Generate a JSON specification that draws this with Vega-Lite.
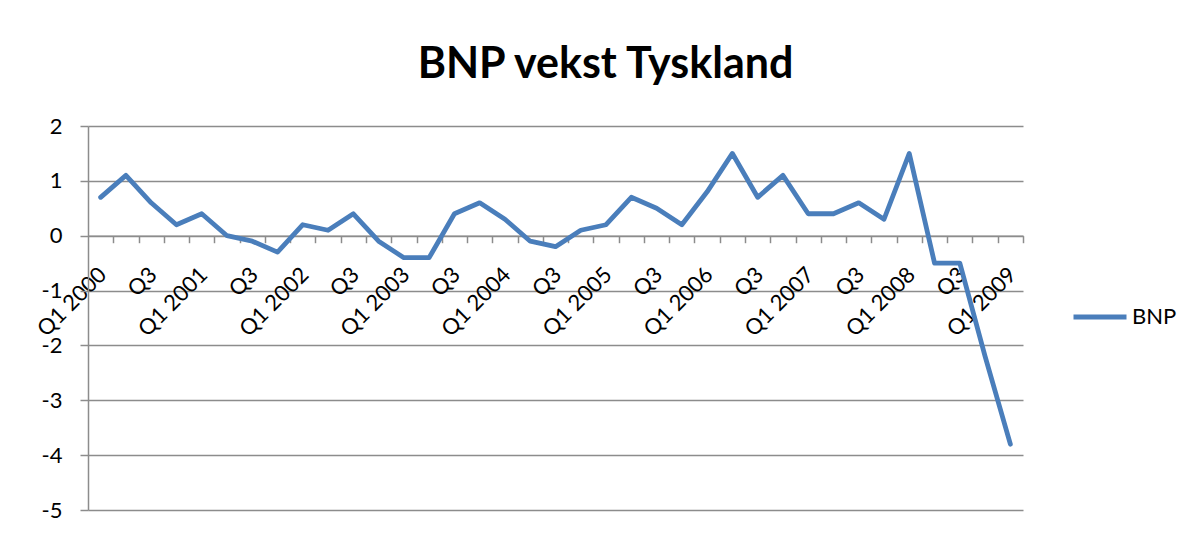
{
  "$schema": "https://vega.github.io/schema/vega-lite/v6.json",
  "width": 935,
  "height": 384,
  "autosize": {"type": "none"},
  "padding": {"left": 88, "top": 126, "right": 176, "bottom": 26},
  "background": "white",
  "config": {"view": {"stroke": null}, "font": "Lato"},
  "title": {"text": "BNP vekst Tyskland", "fontSize": 43, "font": "Lato", "fontWeight": "bold", "color": "black", "anchor": "middle", "dx": 50, "offset": 28},
  "data": {"values": [
    {"kvartal": "Q1 2000", "BNP": 0.7, "serie": "BNP"},
    {"kvartal": "Q2 2000", "BNP": 1.1, "serie": "BNP"},
    {"kvartal": "Q3 2000", "BNP": 0.6, "serie": "BNP"},
    {"kvartal": "Q4 2000", "BNP": 0.2, "serie": "BNP"},
    {"kvartal": "Q1 2001", "BNP": 0.4, "serie": "BNP"},
    {"kvartal": "Q2 2001", "BNP": 0.0, "serie": "BNP"},
    {"kvartal": "Q3 2001", "BNP": -0.1, "serie": "BNP"},
    {"kvartal": "Q4 2001", "BNP": -0.3, "serie": "BNP"},
    {"kvartal": "Q1 2002", "BNP": 0.2, "serie": "BNP"},
    {"kvartal": "Q2 2002", "BNP": 0.1, "serie": "BNP"},
    {"kvartal": "Q3 2002", "BNP": 0.4, "serie": "BNP"},
    {"kvartal": "Q4 2002", "BNP": -0.1, "serie": "BNP"},
    {"kvartal": "Q1 2003", "BNP": -0.4, "serie": "BNP"},
    {"kvartal": "Q2 2003", "BNP": -0.4, "serie": "BNP"},
    {"kvartal": "Q3 2003", "BNP": 0.4, "serie": "BNP"},
    {"kvartal": "Q4 2003", "BNP": 0.6, "serie": "BNP"},
    {"kvartal": "Q1 2004", "BNP": 0.3, "serie": "BNP"},
    {"kvartal": "Q2 2004", "BNP": -0.1, "serie": "BNP"},
    {"kvartal": "Q3 2004", "BNP": -0.2, "serie": "BNP"},
    {"kvartal": "Q4 2004", "BNP": 0.1, "serie": "BNP"},
    {"kvartal": "Q1 2005", "BNP": 0.2, "serie": "BNP"},
    {"kvartal": "Q2 2005", "BNP": 0.7, "serie": "BNP"},
    {"kvartal": "Q3 2005", "BNP": 0.5, "serie": "BNP"},
    {"kvartal": "Q4 2005", "BNP": 0.2, "serie": "BNP"},
    {"kvartal": "Q1 2006", "BNP": 0.8, "serie": "BNP"},
    {"kvartal": "Q2 2006", "BNP": 1.5, "serie": "BNP"},
    {"kvartal": "Q3 2006", "BNP": 0.7, "serie": "BNP"},
    {"kvartal": "Q4 2006", "BNP": 1.1, "serie": "BNP"},
    {"kvartal": "Q1 2007", "BNP": 0.4, "serie": "BNP"},
    {"kvartal": "Q2 2007", "BNP": 0.4, "serie": "BNP"},
    {"kvartal": "Q3 2007", "BNP": 0.6, "serie": "BNP"},
    {"kvartal": "Q4 2007", "BNP": 0.3, "serie": "BNP"},
    {"kvartal": "Q1 2008", "BNP": 1.5, "serie": "BNP"},
    {"kvartal": "Q2 2008", "BNP": -0.5, "serie": "BNP"},
    {"kvartal": "Q3 2008", "BNP": -0.5, "serie": "BNP"},
    {"kvartal": "Q4 2008", "BNP": -2.2, "serie": "BNP"},
    {"kvartal": "Q1 2009", "BNP": -3.8, "serie": "BNP"}
  ]},
  "mark": {"type": "line", "strokeWidth": 4.8, "strokeCap": "round", "strokeJoin": "round"},
  "encoding": {
    "x": {
      "field": "kvartal", "type": "ordinal", "sort": null,
      "scale": {"type": "point", "padding": 0.5},
      "axis": {
        "title": null, "orient": "bottom", "offset": -274.29, "tickOffset": 12.635, "labelOffset": -18,
        "domainColor": "#8c8c8c", "domainWidth": 1.5, "tickColor": "#8c8c8c", "tickWidth": 1.5, "tickSize": 7,
        "labelAngle": -45, "labelAlign": "right", "labelBaseline": "top", "labelPadding": 21,
        "labelFontSize": 22, "labelFont": "Lato", "labelColor": "black", "labelOverlap": false, "grid": false,
        "labelExpr": "slice(datum.value,0,2)=='Q1' ? datum.value : (slice(datum.value,0,2)=='Q3' ? 'Q3' : '')"
      }
    },
    "y": {
      "field": "BNP", "type": "quantitative",
      "scale": {"domain": [-5, 2], "nice": false, "zero": false},
      "axis": {
        "title": null, "values": [-5, -4, -3, -2, -1, 0, 1, 2], "grid": true,
        "gridColor": "#8c8c8c", "gridWidth": 1.5, "domainColor": "#8c8c8c", "domainWidth": 1.5,
        "tickColor": "#8c8c8c", "tickWidth": 1.5, "tickSize": 8, "labelPadding": 18,
        "labelFontSize": 22, "labelColor": "black", "labelFont": "Lato",
        "labelExpr": "datum.value < 0 ? '-' + abs(datum.value) : '' + datum.value"
      }
    },
    "color": {
      "field": "serie", "type": "nominal", "scale": {"range": ["#4A7EBB"]},
      "legend": {
        "title": null, "orient": "none", "legendX": 983, "legendY": 162, "padding": 0,
        "symbolType": "stroke", "symbolSize": 2809, "symbolStrokeWidth": 4.8,
        "labelFontSize": 22, "labelFont": "Lato", "labelColor": "black", "labelOffset": 3
      }
    }
  }
}
